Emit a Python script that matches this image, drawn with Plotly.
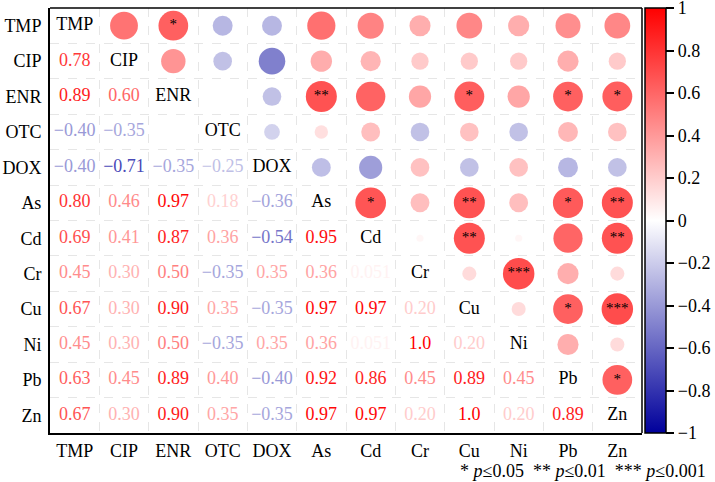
import plotly.graph_objects as go
from plotly.colors import sample_colorscale
import numpy as np

labels = ["TMP", "CIP", "ENR", "OTC", "DOX", "As", "Cd", "Cr", "Cu", "Ni", "Pb", "Zn"]

lower = [
    [],
    [0.78],
    [0.89, 0.60],
    [-0.40, -0.35, 0.0],
    [-0.40, -0.71, -0.35, -0.25],
    [0.80, 0.46, 0.97, 0.18, -0.36],
    [0.69, 0.41, 0.87, 0.36, -0.54, 0.95],
    [0.45, 0.30, 0.50, -0.35, 0.35, 0.36, 0.051],
    [0.67, 0.30, 0.90, 0.35, -0.35, 0.97, 0.97, 0.20],
    [0.45, 0.30, 0.50, -0.35, 0.35, 0.36, 0.051, 1.0, 0.20],
    [0.63, 0.45, 0.89, 0.40, -0.40, 0.92, 0.86, 0.45, 0.89, 0.45],
    [0.67, 0.30, 0.90, 0.35, -0.35, 0.97, 0.97, 0.20, 1.0, 0.20, 0.89],
]

stars = {
    (0, 2): "*", (2, 5): "**", (2, 8): "*", (2, 10): "*", (2, 11): "*",
    (5, 6): "*", (5, 8): "**", (5, 10): "*", (5, 11): "**",
    (6, 8): "**", (6, 11): "**", (7, 9): "***",
    (8, 10): "*", (8, 11): "***", (10, 11): "*",
}

cbar_ticks = [1, 0.8, 0.6, 0.4, 0.2, 0, -0.2, -0.4, -0.6, -0.8, -1]

n = len(labels)
M = np.eye(n)
for i, row in enumerate(lower):
    for j, v in enumerate(row):
        M[i, j] = v
        M[j, i] = v

cscale = [[0.0, "#00009B"], [0.5, "#FFFFFF"], [1.0, "#FF0000"]]


def col_of(v):
    return sample_colorscale(cscale, [(v + 1) / 2])[0]


def fmt(v):
    return "{:#.2g}".format(v).replace("-", "\u2212")


SERIF = "Liberation Serif"

fig = go.Figure()

cx, cy, cv, cs = [], [], [], []
for i in range(n):
    for j in range(i + 1, n):
        cx.append(j)
        cy.append(i)
        cv.append(M[i, j])
        cs.append(31.5 * np.sqrt(abs(M[i, j])))

fig.add_trace(go.Scatter(
    x=cx, y=cy, mode="markers",
    marker=dict(size=cs, color=cv, colorscale=cscale, cmin=-1, cmax=1,
                line=dict(width=0),
                colorbar=dict(
                    x=1.005, xanchor="left", y=0.5, yanchor="middle",
                    len=1.0, lenmode="fraction", thickness=21,
                    xpad=0, ypad=0,
                    outlinewidth=1.5, outlinecolor="black",
                    ticks="outside", ticklen=8, tickwidth=1.5, tickcolor="black",
                    tickvals=cbar_ticks,
                    ticktext=[str(t).replace("-", "\u2212") for t in cbar_ticks],
                    ticklabeloverflow="allow",
                    tickfont=dict(family=SERIF, size=18, color="black"),
                )),
    showlegend=False, hoverinfo="skip",
))

sx, sy, st = [], [], []
for (i, j), s in stars.items():
    sx.append(j)
    sy.append(i)
    st.append(s)
fig.add_trace(go.Scatter(
    x=sx, y=sy, mode="text", text=st,
    textfont=dict(family=SERIF, size=15, color="black"),
    textposition="middle center", showlegend=False, hoverinfo="skip",
))

tx, ty, tt, tc = [], [], [], []
for i in range(n):
    for j in range(i):
        tx.append(j)
        ty.append(i)
        tt.append(fmt(M[i, j]))
        tc.append(col_of(M[i, j]))
fig.add_trace(go.Scatter(
    x=tx, y=ty, mode="text", text=tt,
    textfont=dict(family=SERIF, size=18, color=tc),
    textposition="middle center", showlegend=False, hoverinfo="skip",
))

fig.add_trace(go.Scatter(
    x=list(range(n)), y=list(range(n)), mode="text", text=labels,
    textfont=dict(family=SERIF, size=18, color="black"),
    textposition="middle center", showlegend=False, hoverinfo="skip",
))

grid = dict(showgrid=True, gridcolor="#E6E6E6", griddash="dash", gridwidth=1,
            tickvals=[k + 0.5 for k in range(n - 1)])

fig.update_xaxes(
    range=[-0.5, n - 0.5], tickvals=list(range(n)), ticktext=labels,
    showgrid=False, zeroline=False, showline=True, linecolor="black", linewidth=2,
    ticks="",
    tickfont=dict(family=SERIF, size=18, color="black"),
    minor=grid, fixedrange=True,
)
fig.update_yaxes(
    range=[n - 0.5, -0.5], tickvals=list(range(n)), ticktext=labels,
    showgrid=False, zeroline=False, showline=True, linecolor="black", linewidth=2,
    ticks="outside", ticklen=3, tickcolor="rgba(0,0,0,0)",
    tickfont=dict(family=SERIF, size=18, color="black"),
    minor=grid, fixedrange=True,
)

fig.add_shape(type="line", xref="paper", yref="paper", x0=0, x1=1, y0=1, y1=1,
              line=dict(color="black", width=1.5))
fig.add_shape(type="line", xref="paper", yref="paper", x0=1, x1=1, y0=0, y1=1,
              line=dict(color="black", width=1.5))

fig.add_annotation(
    xref="paper", yref="paper", x=1.1115, y=-0.089, xanchor="right", yanchor="middle",
    text="* <i>p</i>≤0.05  ** <i>p</i>≤0.01  *** <i>p</i>≤0.001",
    showarrow=False, font=dict(family=SERIF, size=18, color="black"),
)

fig.update_layout(
    width=715, height=482,
    margin=dict(l=50, r=73, t=8, b=49, autoexpand=False),
    plot_bgcolor="white", paper_bgcolor="white",
)

fig.write_html("out.html")
